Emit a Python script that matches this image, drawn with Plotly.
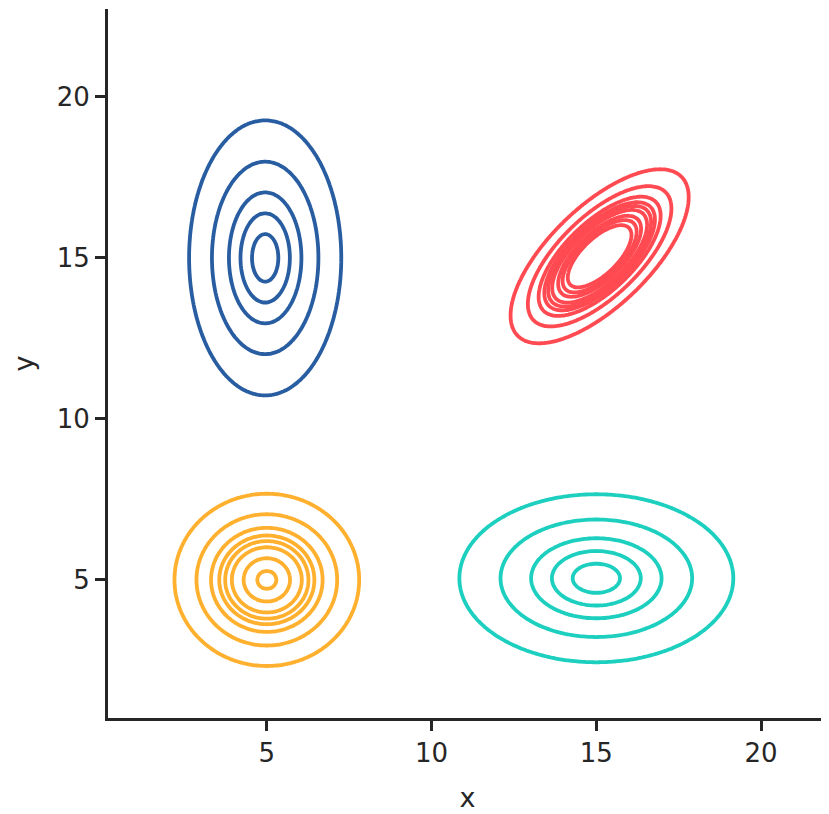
import numpy as np
import plotly.graph_objects as go

# Cluster parameters (centre, spreads, correlation, relative peak density)
cluster_names = ["A", "B", "C", "D"]
center_x = [4.95, 15.1, 5.0, 15.0]
center_y = [15.0, 15.05, 5.0, 5.05]
sigma_x = [1.0, 0.97, 1.1, 1.8]
sigma_y = [1.85, 0.97, 1.05, 1.13]
rho = [0.0, 0.68, 0.0, 0.0]
peak = [0.56, 1.89, 1.0, 0.56]
colors = ["#285DA1", "#FF4A52", "#FFB02F", "#1DCFBF"]

# Common density levels (relative units), shared by all groups
levels = [0.039, 0.152, 0.306, 0.423, 0.517, 0.628, 0.815, 0.966, 1.15]

x_ticks = [5, 10, 15, 20]
y_ticks = [5, 10, 15, 20]

fig = go.Figure()
for i in range(len(cluster_names)):
    gx = np.linspace(center_x[i] - 4.5 * sigma_x[i], center_x[i] + 4.5 * sigma_x[i], 180)
    gy = np.linspace(center_y[i] - 4.5 * sigma_y[i], center_y[i] + 4.5 * sigma_y[i], 180)
    X, Y = np.meshgrid(gx, gy)
    u = (X - center_x[i]) / sigma_x[i]
    v = (Y - center_y[i]) / sigma_y[i]
    r = rho[i]
    m2 = (u * u - 2 * r * u * v + v * v) / (1 - r * r)
    Z = peak[i] * np.exp(-0.5 * m2)
    for L in levels:
        if L >= peak[i]:
            continue
        fig.add_trace(go.Contour(
            x=gx, y=gy, z=Z,
            autocontour=False,
            contours=dict(start=L, end=L, size=1, coloring="none"),
            line=dict(color=colors[i], width=3.8, smoothing=1.0),
            showscale=False, hoverinfo="skip", showlegend=False,
        ))

axis_common = dict(
    showline=True, linewidth=2.8, linecolor="#262626", mirror=False,
    ticks="outside", ticklen=10, tickwidth=2.5, tickcolor="#262626",
    tickfont=dict(family="DejaVu Sans", size=26, color="#262626"),
    showgrid=False, zeroline=False, automargin=False,
)
fig.update_layout(
    width=821, height=806,
    margin=dict(l=100, r=2, t=1, b=96),
    paper_bgcolor="white", plot_bgcolor="white",
    xaxis=dict(range=[0.18, 22.0], tickvals=x_ticks,
               title=dict(text="x", font=dict(family="DejaVu Sans", size=27, color="#262626"), standoff=22),
               **axis_common),
    yaxis=dict(range=[0.71, 22.73], tickvals=y_ticks,
               title=dict(text="y", font=dict(family="DejaVu Sans", size=27, color="#262626"), standoff=30),
               **axis_common),
)
fig.write_html("out.html")
